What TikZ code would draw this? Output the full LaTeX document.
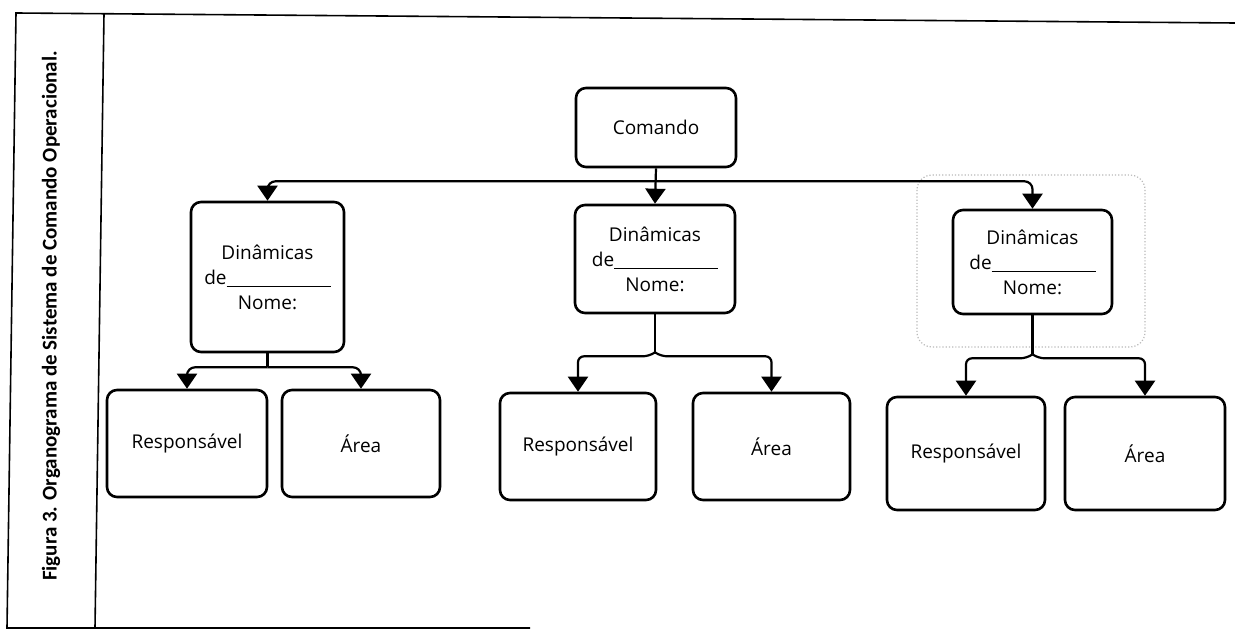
\documentclass[tikz,border=0pt]{standalone}
\usepackage{fontspec}
\setmainfont{Open Sans}
\newfontfamily\capfont{Carlito}
\usetikzlibrary{arrows.meta,calc}
\begin{document}
\begin{tikzpicture}[x=1pt,y=-1pt,
  box/.style={draw=black,line width=2.6pt,rounded corners=10pt,fill=white,align=center,inner sep=0pt,font=\fontsize{19}{25}\selectfont},
  line/.style={line width=2.2pt},
  conn/.style={line width=2.2pt,-{Triangle[width=20pt,length=15pt]}},
  frame/.style={line width=1.6pt},
  grp/.style={draw=gray!55,dotted,line width=1.2pt,rounded corners=15pt}]
\useasboundingbox (0,0) rectangle (1235,631);
% frame
\draw[frame] (1235,23) -- (16,13) -- (7,628) -- (530,628);
\draw[frame] (104,14) -- (95,628);
\node[rotate=90,font=\capfont\bfseries\fontsize{21}{23}\selectfont] (cap) at (51,316) {Figura 3. Organograma de Sistema de Comando Operacional.};
% group outline
\draw[grp] (917,175) rectangle (1145,347);
% nodes
\node[box,minimum width=160pt,minimum height=79pt] (cmd) at (656,127.5) {Comando};
\node[box,minimum width=153pt,minimum height=150pt] (d1) at (267.5,277) {Dinâmicas\\de\rule[-3pt]{104pt}{1.3pt}\\Nome:};
\node[box,minimum width=160pt,minimum height=108pt] (d2) at (655,259) {Dinâmicas\\de\rule[-3pt]{104pt}{1.3pt}\\Nome:};
\node[box,minimum width=159pt,minimum height=104pt] (d3) at (1032.5,262) {Dinâmicas\\de\rule[-3pt]{104pt}{1.3pt}\\Nome:};
\node[box,minimum width=160pt,minimum height=107pt] (r1) at (187,443.5) {Responsável};
\node[box,minimum width=158pt,minimum height=107pt] (a1) at (361,443.5) {Área};
\node[box,minimum width=156pt,minimum height=107pt] (r2) at (578,446.5) {Responsável};
\node[box,minimum width=157pt,minimum height=107pt] (a2) at (771.5,446.5) {Área};
\node[box,minimum width=158pt,minimum height=113pt] (r3) at (966,453.5) {Responsável};
\node[box,minimum width=160pt,minimum height=113pt] (a3) at (1145,453.5) {Área};
% connectors from Comando
\draw[conn] (cmd.south) -- (d2.north);
\coordinate (bus) at ($(cmd.south)+(0,13)$);
\draw[conn,rounded corners=8pt] (bus) -| (d1.north);
\draw[conn,rounded corners=8pt] (bus) -| (d3.north);
% left group
\coordinate (j1) at ($(d1.south)+(0,14)$);
\draw[line] (d1.south) -- (j1);
\draw[conn,rounded corners=8pt] (j1) -| (r1.north);
\draw[conn,rounded corners=8pt] (j1) -| (a1.north);
% middle group
\coordinate (j2) at ($(d2.south)+(0,38)$);
\draw[line] (d2.south) -- (j2);
\draw[conn,rounded corners=6pt] (j2) -- ++(-6,4) -| (r2.north);
\draw[conn,rounded corners=6pt] (j2) -- ++(6,4) -| (a2.north);
% right group
\coordinate (j3) at ($(d3.south)+(0,39)$);
\draw[line] (d3.south) -- (j3);
\draw[conn,rounded corners=6pt] (j3) -- ++(-6,4) -| (r3.north);
\draw[conn,rounded corners=6pt] (j3) -- ++(6,4) -| (a3.north);
\end{tikzpicture}
\end{document}
